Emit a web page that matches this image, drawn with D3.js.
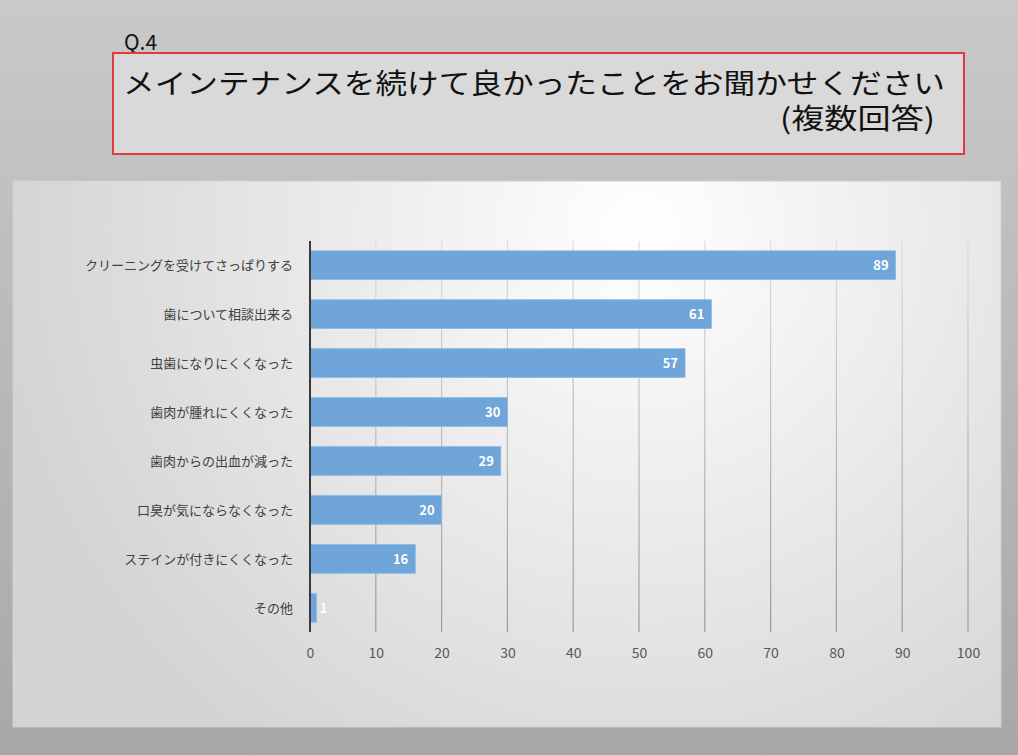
<!DOCTYPE html>
<html>
<head>
<meta charset="utf-8">
<script src="https://cdn.jsdelivr.net/npm/d3@7"></script>
<style>
  html, body { margin: 0; padding: 0; }
  body { width: 1018px; height: 755px; overflow: hidden; }
  svg { display: block; font-family: "Noto Sans CJK JP", "Noto Sans", sans-serif; }
</style>
</head>
<body>
<div id="vis"></div>
<script>
// chart data
const categories = [
  "クリーニングを受けてさっぱりする",
  "歯について相談出来る",
  "虫歯になりにくくなった",
  "歯肉が腫れにくくなった",
  "歯肉からの出血が減った",
  "口臭が気にならなくなった",
  "ステインが付きにくくなった",
  "その他"
];
const counts = [89, 61, 57, 30, 29, 20, 16, 1];
const xTicks = [0, 10, 20, 30, 40, 50, 60, 70, 80, 90, 100];
const questionNo = "Q.4";
const titleText = "メインテナンスを続けて良かったことをお聞かせください";
const subTitle = "(複数回答)";

const W = 1018, H = 755;
const svg = d3.select("#vis").append("svg").attr("width", W).attr("height", H);
const defs = svg.append("defs");

// page background
const bg = defs.append("linearGradient").attr("id", "bg")
  .attr("x1", 0).attr("y1", 0).attr("x2", 0).attr("y2", 1);
bg.append("stop").attr("offset", "0%").attr("stop-color", "#c9c9c9");
bg.append("stop").attr("offset", "100%").attr("stop-color", "#a8a8a8");
svg.append("rect").attr("width", W).attr("height", H).attr("fill", "url(#bg)");

// title block
svg.append("text").attr("x", 124).attr("y", 50)
  .attr("font-size", 21).attr("fill", "#111").text(questionNo);
svg.append("rect").attr("x", 113).attr("y", 53).attr("width", 851).attr("height", 101)
  .attr("fill", "#d9d9d9").attr("stroke", "#e0393e").attr("stroke-width", 2);
svg.append("text").attr("x", 123).attr("y", 94)
  .attr("font-size", 28).attr("fill", "#111")
  .attr("textLength", 822).attr("lengthAdjust", "spacingAndGlyphs")
  .text(titleText);
svg.append("text").attr("x", 780).attr("y", 129)
  .attr("font-size", 28).attr("fill", "#111")
  .attr("textLength", 155).attr("lengthAdjust", "spacingAndGlyphs")
  .text(subTitle);

// chart panel
const pg = defs.append("radialGradient").attr("id", "panel")
  .attr("gradientUnits", "userSpaceOnUse")
  .attr("cx", 640).attr("cy", 230).attr("r", 640);
pg.append("stop").attr("offset", "0%").attr("stop-color", "#ffffff");
pg.append("stop").attr("offset", "100%").attr("stop-color", "#d4d4d4");
svg.append("rect").attr("x", 13).attr("y", 181).attr("width", 988).attr("height", 546)
  .attr("fill", "url(#panel)").attr("stroke", "#cfcfcf").attr("stroke-width", 1);

const x = d3.scaleLinear().domain([0, 100]).range([310, 968]);
const y = d3.scaleBand().domain(categories).range([241, 632]).paddingInner(0.41).paddingOuter(0.2);

// gridlines
const gg = defs.append("linearGradient").attr("id", "grid")
  .attr("gradientUnits", "userSpaceOnUse")
  .attr("x1", 0).attr("y1", 241).attr("x2", 0).attr("y2", 632);
gg.append("stop").attr("offset", "0%").attr("stop-color", "#dedede");
gg.append("stop").attr("offset", "100%").attr("stop-color", "#9a9a9a");

svg.append("g").selectAll("line").data(xTicks.slice(1)).join("line")
  .attr("x1", d => x(d)).attr("x2", d => x(d))
  .attr("y1", 241).attr("y2", 632)
  .attr("stroke", "url(#grid)").attr("stroke-width", 1.2);

// bars
svg.append("g").selectAll("rect").data(counts).join("rect")
  .attr("x", x(0))
  .attr("y", (d, i) => y(categories[i]))
  .attr("width", d => x(d) - x(0))
  .attr("height", y.bandwidth())
  .attr("fill", "#6fa5d8")
  .attr("stroke", "#8dbbe6").attr("stroke-width", 0.8);

// value labels
svg.append("g").selectAll("text").data(counts).join("text")
  .attr("x", d => d < 5 ? x(d) + 3 : x(d) - 7)
  .attr("y", (d, i) => y(categories[i]) + y.bandwidth() / 2 + 5)
  .attr("text-anchor", d => d < 5 ? "start" : "end")
  .attr("font-size", 13).attr("font-weight", "bold")
  .attr("fill", "#fff")
  .text(d => d);

// axis line at zero
svg.append("line").attr("x1", x(0)).attr("x2", x(0)).attr("y1", 241).attr("y2", 632)
  .attr("stroke", "#3a3a3a").attr("stroke-width", 2);

// category labels
svg.append("g").selectAll("text").data(categories).join("text")
  .attr("x", 293)
  .attr("y", d => y(d) + y.bandwidth() / 2 + 5)
  .attr("text-anchor", "end")
  .attr("font-size", 13).attr("fill", "#404040")
  .text(d => d);

// x tick labels
const xAxis = svg.append("g").attr("transform", "translate(0,648)")
  .call(d3.axisBottom(x).tickValues(xTicks).tickSize(0).tickPadding(0));
xAxis.select(".domain").remove();
xAxis.selectAll("text").attr("font-size", 14).attr("fill", "#595959")
  .attr("font-family", "'Noto Sans CJK JP', sans-serif");
</script>
</body>
</html>
